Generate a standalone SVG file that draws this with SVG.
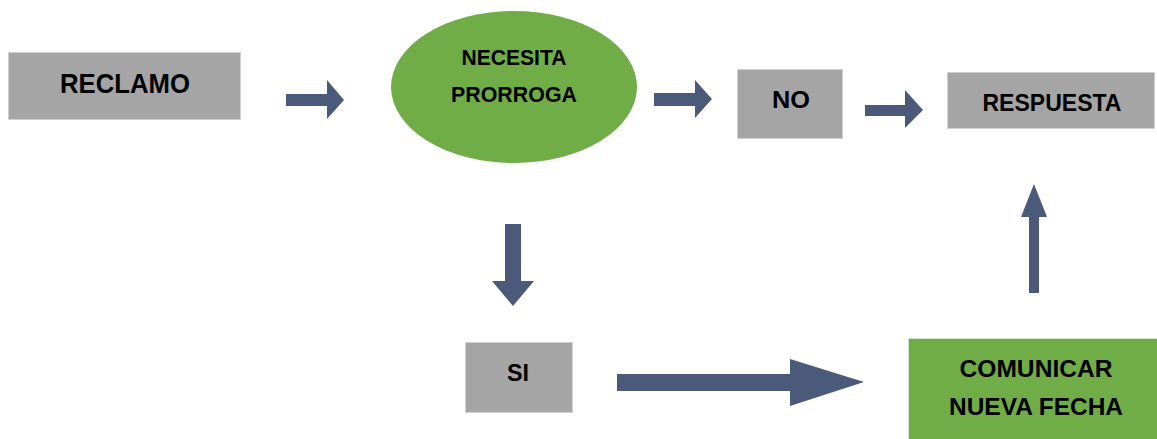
<svg xmlns="http://www.w3.org/2000/svg" width="1157" height="439" viewBox="0 0 1157 439">
<style>
.gray{fill:#A5A5A5;stroke:#D0D0D0;stroke-width:1}
.green{fill:#70AD47;stroke:#D8E6CF;stroke-width:1}
.t{font-family:"Liberation Sans",Arial,sans-serif;font-weight:bold;fill:#000;text-anchor:middle}
.arrow{fill:#4B5A7A}
</style>
<rect width="1157" height="439" fill="#fff"/>
<g id="reclamo">
<rect class="gray" x="8.5" y="52.5" width="232" height="67"/>
<text class="t" x="125" y="93" font-size="28" textLength="130" lengthAdjust="spacingAndGlyphs">RECLAMO</text>
</g>
<g id="necesita">
<ellipse cx="514" cy="87" rx="123" ry="76" fill="#70AD47"/>
<text class="t" x="514" y="65" font-size="21.5" textLength="105" lengthAdjust="spacingAndGlyphs">NECESITA</text>
<text class="t" x="514" y="102" font-size="21.5" textLength="126" lengthAdjust="spacingAndGlyphs">PRORROGA</text>
</g>
<g id="no">
<rect class="gray" x="737.5" y="69.5" width="105" height="69"/>
<text class="t" x="791" y="108" font-size="23.5" textLength="38" lengthAdjust="spacingAndGlyphs">NO</text>
</g>
<g id="respuesta">
<rect class="gray" x="947.5" y="72.5" width="207" height="56"/>
<text class="t" x="1052" y="111" font-size="24.5" textLength="139" lengthAdjust="spacingAndGlyphs">RESPUESTA</text>
</g>
<g id="si">
<rect class="gray" x="465.5" y="342.5" width="107" height="70"/>
<text class="t" x="518" y="381" font-size="23.5" textLength="22" lengthAdjust="spacingAndGlyphs">SI</text>
</g>
<g id="comunicar">
<rect class="green" x="908.5" y="338.5" width="250" height="102"/>
<text class="t" x="1036" y="377" font-size="24" textLength="153" lengthAdjust="spacingAndGlyphs">COMUNICAR</text>
<text class="t" x="1036" y="415" font-size="24" textLength="174" lengthAdjust="spacingAndGlyphs">NUEVA FECHA</text>
</g>
<g id="connectors">
<polygon class="arrow" points="286,94 327,94 327,80 344,100 327,119 327,106 286,106"/>
<polygon class="arrow" points="654,93 695,93 695,80 712,99 695,118 695,106 654,106"/>
<polygon class="arrow" points="865,105 905,105 905,90 923,110 905,128 905,116 865,116"/>
<polygon class="arrow" points="505,224 521,224 521,281 534,281 513,306 492,281 505,281"/>
<polygon class="arrow" points="617,374 790,374 790,359 864,382 790,406 790,391 617,391"/>
<polygon class="arrow" points="1029,293 1029,217 1021,217 1034,184 1047,217 1039,217 1039,293"/>
</g>
</svg>
